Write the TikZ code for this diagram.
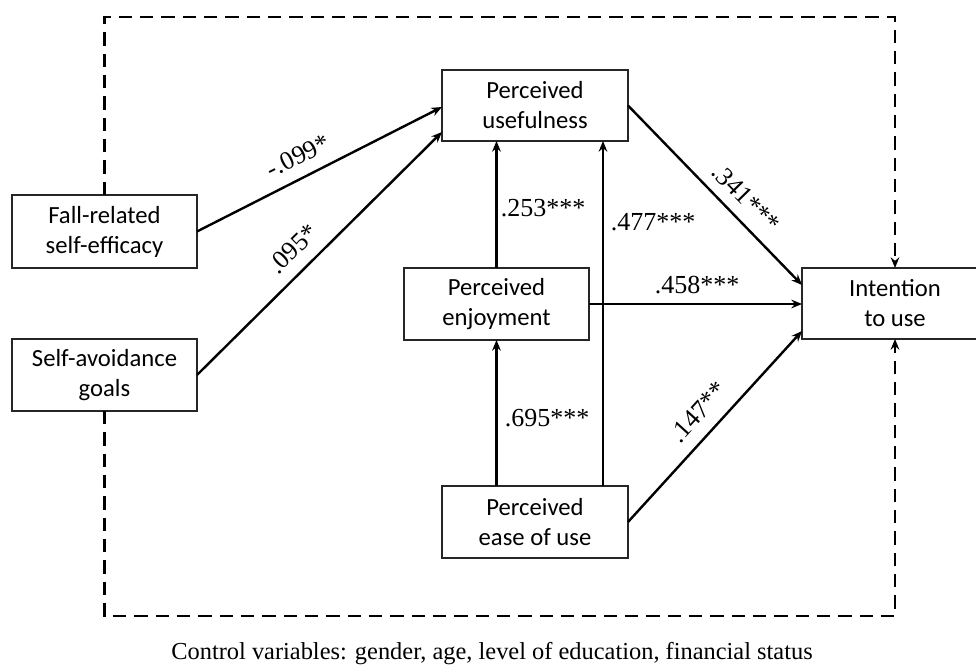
\documentclass[tikz,border=0pt]{standalone}
\usepackage{fontspec}
\setmainfont{Liberation Serif}
\newfontfamily\boxfont{Carlito}
\usetikzlibrary{arrows.meta,calc}
\begin{document}
\begin{tikzpicture}[x=0.75pt,y=-0.75pt,
  var/.style={draw=black!85,line width=1pt,fill=white,inner sep=0pt,outer sep=0pt,
    align=center,font=\boxfont\fontsize{18.5}{22.5}\selectfont,text=black},
  path/.style={line width=1.8pt,-{Stealth[length=8pt,width=6.5pt]}},
  ctrl/.style={line width=1.9pt,dash pattern=on 10pt off 6pt,-{Stealth[length=8pt,width=6.5pt]}},
  coef/.style={font=\fontsize{19.5}{22}\selectfont,inner sep=1pt,text=black}]
\clip (0,0) rectangle (976,666);
\fill[white] (0,0) rectangle (976,666);

\node[var,minimum width=138.75pt,minimum height=54.75pt] (fall) at (104.5,231.5) {Fall-related\\self-efficacy};
\node[var,minimum width=138.75pt,minimum height=54pt] (self) at (104.5,375) {Self-avoidance\\goals};
\node[var,minimum width=139.5pt,minimum height=53.25pt] (pu) at (535,105.5) {Perceived\\usefulness};
\node[var,minimum width=138.75pt,minimum height=54pt] (pe) at (496.5,304) {Perceived\\enjoyment};
\node[var,minimum width=139.5pt,minimum height=54pt] (peou) at (535,522) {Perceived\\ease of use};
\node[var,minimum width=139.5pt,minimum height=53.25pt] (iu) at (895,303.5) {Intention\\to use};

\coordinate (tl) at (104.5,17);
\coordinate (tr) at (895,17);
\coordinate (bl) at (104.5,616);
\coordinate (br) at (895,616);

\draw[ctrl] (fall.north) -- (tl) -- (tr) -- (iu.north);
\draw[ctrl] (self.south) -- (bl) -- (br) -- (iu.south);

\draw[path] (fall.east) -- ($(pu.west)+(0,1.5)$);
\draw[path] (self.east) -- ($(pu.south west)+(0,-9)$);
\draw[path] (pe.north) -- (pe.north |- pu.south);
\coordinate (peouR) at ($(peou.north east)+(-25,0)$);
\draw[path] (peouR) -- (peouR |- pu.south);
\draw[path] (peou.north -| pe.south) -- (pe.south);
\draw[path] (pu.east) -- ($(iu.west)+(0,-18.5)$);
\draw[path] (pe.east) -- (pe.east -| iu.west);
\draw[path] (peou.east) -- ($(iu.south west)+(0,-8)$);

\node[coef,rotate=27] (c1) at (298,156) {-.099*};
\node[coef,rotate=44.5] (c2) at (293,249) {.095*};
\node[coef] (c3) at (543,208) {.253***};
\node[coef] (c4) at (653,222) {.477***};
\node[coef,rotate=-45.6] (c5) at (746,198) {.341***};
\node[coef] (c6) at (697,285) {.458***};
\node[coef] (c7) at (547,418) {.695***};
\node[coef,rotate=47.7] (c8) at (698,412) {.147**};

\node[font=\fontsize{18.3}{20}\selectfont,text=black] (cap) at (492,654) {Control variables: gender, age, level of education, financial status};
\end{tikzpicture}
\end{document}
